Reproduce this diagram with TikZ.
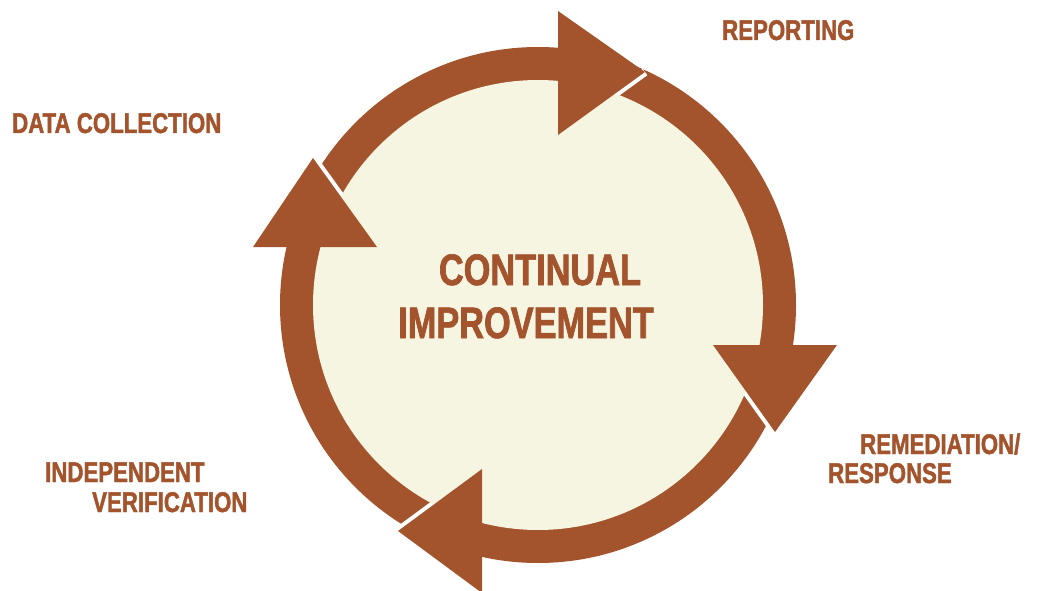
\documentclass[tikz,border=0pt]{standalone}
\usepackage{fontspec}
\newfontfamily\labelfont{Liberation Sans}[FakeStretch=0.78,FakeBold=1.5]
\definecolor{rust}{RGB}{163,84,45}
\definecolor{cream}{RGB}{246,245,226}
\begin{document}
\begin{tikzpicture}[x=1pt,y=-1pt,
  lbl/.style={inner sep=0pt, text=rust, font=\labelfont\bfseries\fontsize{28.5}{30}\selectfont},
  big/.style={inner sep=0pt, text=rust, font=\labelfont\bfseries\fontsize{44}{46}\selectfont},
  head/.style={fill=rust},
  gapline/.style={draw=white, line width=8pt}]
\useasboundingbox[fill=white] (0,0) rectangle (1039,591);
\coordinate (c) at (538,305);
% ring
\fill[rust] (c) circle[radius=258pt];
% arrowhead corners
\coordinate (a1t) at (558,11);  \coordinate (a1b) at (558,135); \coordinate (a1p) at (645,72);
\coordinate (a2l) at (713,345); \coordinate (a2r) at (837,345); \coordinate (a2p) at (775,432);
\coordinate (a3t) at (482,469); \coordinate (a3b) at (482,593); \coordinate (a3p) at (398,531);
\coordinate (a4l) at (253,247); \coordinate (a4r) at (377,247); \coordinate (a4p) at (313,158);
% gaps between heads and following arcs
\draw[gapline] (a1b) -- (a1p);
\draw[gapline] (a2l) -- (a2p);
\draw[gapline] (a3t) -- (a3p);
\draw[gapline] (a4r) -- (a4p);
% inner disc
\fill[cream] (c) circle[radius=225pt];
% heads
\fill[head] (a1t) -- (a1p) -- (a1b) -- cycle;
\fill[head] (a2l) -- (a2p) -- (a2r) -- cycle;
\fill[head] (a3t) -- (a3p) -- (a3b) -- cycle;
\fill[head] (a4l) -- (a4p) -- (a4r) -- cycle;
% texts
\node[big, anchor=base] (t1) at (540,285) {CONTINUAL};
\node[big, anchor=base] (t2) at (526,338) {IMPROVEMENT};
\node[lbl, anchor=base west] (dc) at (12,133) {DATA COLLECTION};
\node[lbl, anchor=base west] (rp) at (722,40) {REPORTING};
\node[lbl, anchor=base west] (rm) at (860,454) {REMEDIATION/};
\node[lbl, anchor=base west] (rs) at (828,483) {RESPONSE};
\node[lbl, anchor=base west] (iv1) at (45,482) {INDEPENDENT};
\node[lbl, anchor=base west] (iv2) at (92,512) {VERIFICATION};
\end{tikzpicture}
\end{document}
